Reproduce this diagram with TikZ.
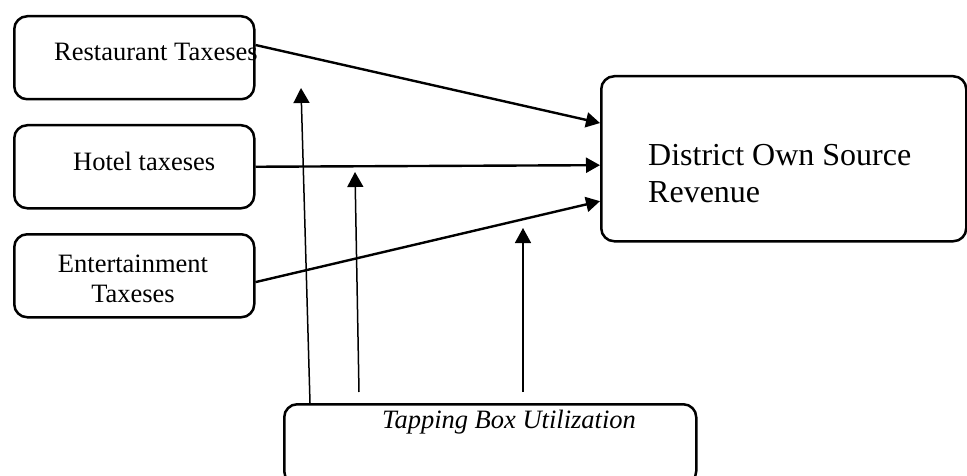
\documentclass[tikz,border=0pt]{standalone}
\usepackage{fontspec}
\setmainfont{Liberation Serif}
\usetikzlibrary{arrows.meta}
\begin{document}
\begin{tikzpicture}[x=1pt,y=-1pt,
  boxstyle/.style={draw,line width=2.5pt,rounded corners=13pt,inner sep=0pt,anchor=north west},
  txt/.style={inner sep=0pt,anchor=base west,font=\fontsize{26.5}{30}\selectfont},
  flow/.style={line width=2.4pt,-{Triangle[length=14pt,width=15pt]}},
  vflow/.style={line width=1.5pt,-{Triangle[length=15pt,width=16pt]}}]
\useasboundingbox (0,0) rectangle (967,476);
\clip (0,0) rectangle (967,476);
% boxes
\node[boxstyle,minimum width=240pt,minimum height=83pt] (rest) at (13,15) {};
\node[boxstyle,minimum width=240pt,minimum height=83pt] (hotel) at (13,124) {};
\node[boxstyle,minimum width=240pt,minimum height=83pt] (ent) at (13,233) {};
\node[boxstyle,minimum width=365pt,minimum height=165pt] (dist) at (600,75) {};
\node[boxstyle,minimum width=412pt,minimum height=80pt] (tap) at (283,403) {};
% texts
\node[txt] (resttxt) at (54,61) {Restaurant Taxeses};
\node[txt] (hoteltxt) at (73,171) {Hotel taxeses};
\node[txt,anchor=base,align=center] (enttxt) at (133,302) {Entertainment\\Taxeses};
\node[txt,anchor=base west,align=left,font=\fontsize{32}{36}\selectfont] (disttxt) at (648,202) {District Own Source\\Revenue};
\node[txt,font=\fontsize{26.5}{30}\selectfont\itshape] (taptxt) at (382,428) {Tapping Box Utilization};
% horizontal arrows
\draw[flow] (rest.6.4) -- (dist.169.9);
\draw[flow] (hotel.east) -- (dist.182.4);
\draw[flow] (ent.-3.1) -- (dist.193.7);
% vertical arrows
\coordinate (v1s) at (310,403);
\coordinate (v1e) at (301,88);
\coordinate (v2s) at (359,392);
\coordinate (v2e) at (355,172);
\coordinate (v3s) at (523,392);
\coordinate (v3e) at (523,228);
\draw[vflow] (v1s) -- (v1e);
\draw[vflow] (v2s) -- (v2e);
\draw[vflow] (v3s) -- (v3e);
\end{tikzpicture}
\end{document}
